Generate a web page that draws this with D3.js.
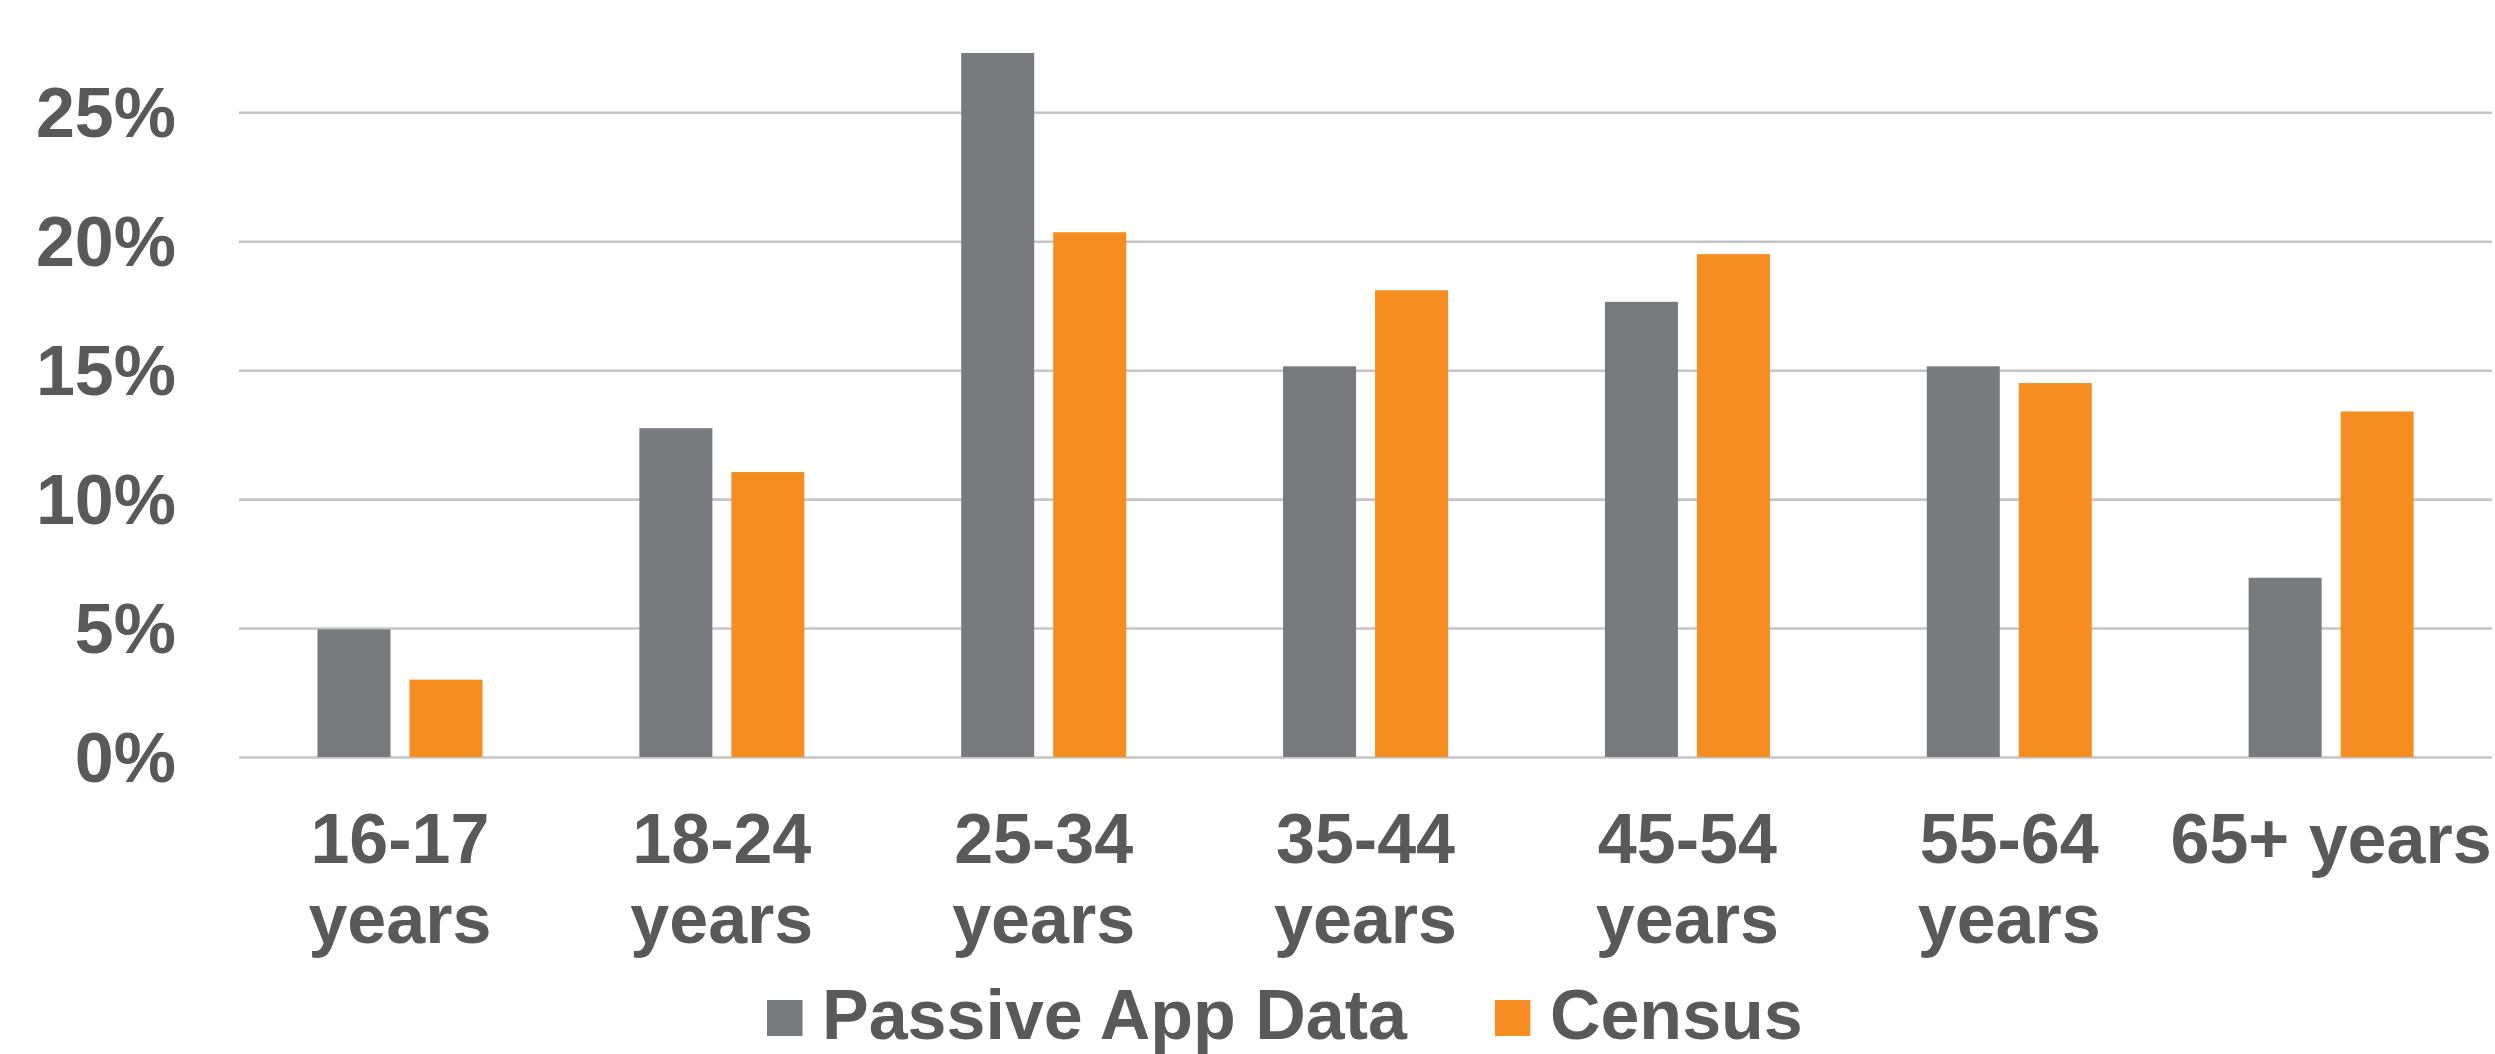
<!DOCTYPE html>
<html>
<head>
<meta charset="utf-8">
<script src="https://cdn.jsdelivr.net/npm/d3@7"></script>
<style>
  html, body { margin: 0; padding: 0; background: #ffffff; }
  svg { display: block; }
  text { font-family: "Liberation Sans", Arial, sans-serif; font-weight: bold; fill: #595959; }
</style>
</head>
<body>
<svg id="chart" width="2495" height="1054"></svg>
<script>
// Age groups (x categories) and their label lines
const categories = ["16-17 years", "18-24 years", "25-34 years", "35-44 years", "45-54 years", "55-64 years", "65+ years"];
const categoryLabelLines = [["16-17", "years"], ["18-24", "years"], ["25-34", "years"], ["35-44", "years"], ["45-54", "years"], ["55-64", "years"], ["65+ years"]];

// Series: share of respondents in each age group (%)
const seriesNames = ["Passive App Data", "Census"];
const passiveAppData = [4.95, 12.75, 27.3, 15.15, 17.65, 15.15, 6.95];
const census = [3.0, 11.05, 20.35, 18.1, 19.5, 14.5, 13.4];

// Y-axis tick values (%)
const yTicks = [0, 5, 10, 15, 20, 25];

const seriesValues = [passiveAppData, census];
const colors = { "Passive App Data": "#797a7e", "Census": "#f58d20" };

const svg = d3.select("#chart");
const plotLeft = 239, plotRight = 2492, plotTop = 112.3, plotBottom = 757;

const x = d3.scaleBand().domain(categories).range([plotLeft, plotRight]).padding(0);
const xInner = d3.scaleBand().domain(seriesNames)
  .range([78.5, 243.5]).paddingInner(0.2065).paddingOuter(0);
const y = d3.scaleLinear().domain([0, 25]).range([plotBottom, plotTop]);

// Horizontal gridlines
const grid = svg.append("g")
  .attr("transform", `translate(${plotLeft},0)`)
  .call(d3.axisLeft(y).tickValues(yTicks).tickSize(-(plotRight - plotLeft)).tickFormat(""));
grid.select(".domain").remove();
grid.selectAll(".tick line").attr("stroke", "#c4c4c4").attr("stroke-width", 2.6);

// Y-axis labels
const yAxis = svg.append("g")
  .attr("transform", `translate(${plotLeft},0)`)
  .call(d3.axisLeft(y).tickValues(yTicks).tickSize(0).tickPadding(63).tickFormat(d => d + "%"));
yAxis.select(".domain").remove();
yAxis.selectAll("text")
  .attr("font-size", 70)
  .attr("dy", "0.35em")
  .style("font-family", "'Liberation Sans', Arial, sans-serif")
  .style("font-weight", "bold")
  .attr("fill", "#595959");

// Bars
const rows = categories.map((c, i) => ({
  category: c,
  values: seriesNames.map((s, j) => ({ series: s, value: seriesValues[j][i] }))
}));

const groups = svg.append("g").selectAll("g")
  .data(rows)
  .join("g")
  .attr("transform", d => `translate(${x(d.category)},0)`);

groups.selectAll("rect")
  .data(d => d.values)
  .join("rect")
  .attr("x", d => xInner(d.series))
  .attr("width", xInner.bandwidth())
  .attr("y", d => y(d.value))
  .attr("height", d => y(0) - y(d.value))
  .attr("fill", d => colors[d.series]);

// X-axis labels
const xAxis = svg.append("g")
  .attr("transform", `translate(0,${plotBottom})`)
  .call(d3.axisBottom(x).tickSize(0).tickFormat(""));
xAxis.select(".domain").remove();
xAxis.selectAll(".tick").each(function(d, i) {
  const t = d3.select(this).append("text")
    .attr("text-anchor", "middle")
    .attr("font-size", 70)
    .attr("fill", "#595959")
    .style("font-family", "'Liberation Sans', Arial, sans-serif")
    .style("font-weight", "bold");
  categoryLabelLines[i].forEach((line, k) => {
    t.append("tspan").attr("x", 0).attr("y", 106 + k * 80).text(line);
  });
});

// Legend
const legend = svg.append("g").attr("transform", "translate(767,1000)");
let lx = 0;
seriesNames.forEach(name => {
  const item = legend.append("g").attr("transform", `translate(${lx},0)`);
  item.append("rect").attr("width", 35.5).attr("height", 36).attr("fill", colors[name]);
  const txt = item.append("text")
    .attr("x", 55).attr("y", 39)
    .attr("font-size", 70)
    .text(name);
  lx += 55 + txt.node().getComputedTextLength() + 88;
});
</script>
</body>
</html>
